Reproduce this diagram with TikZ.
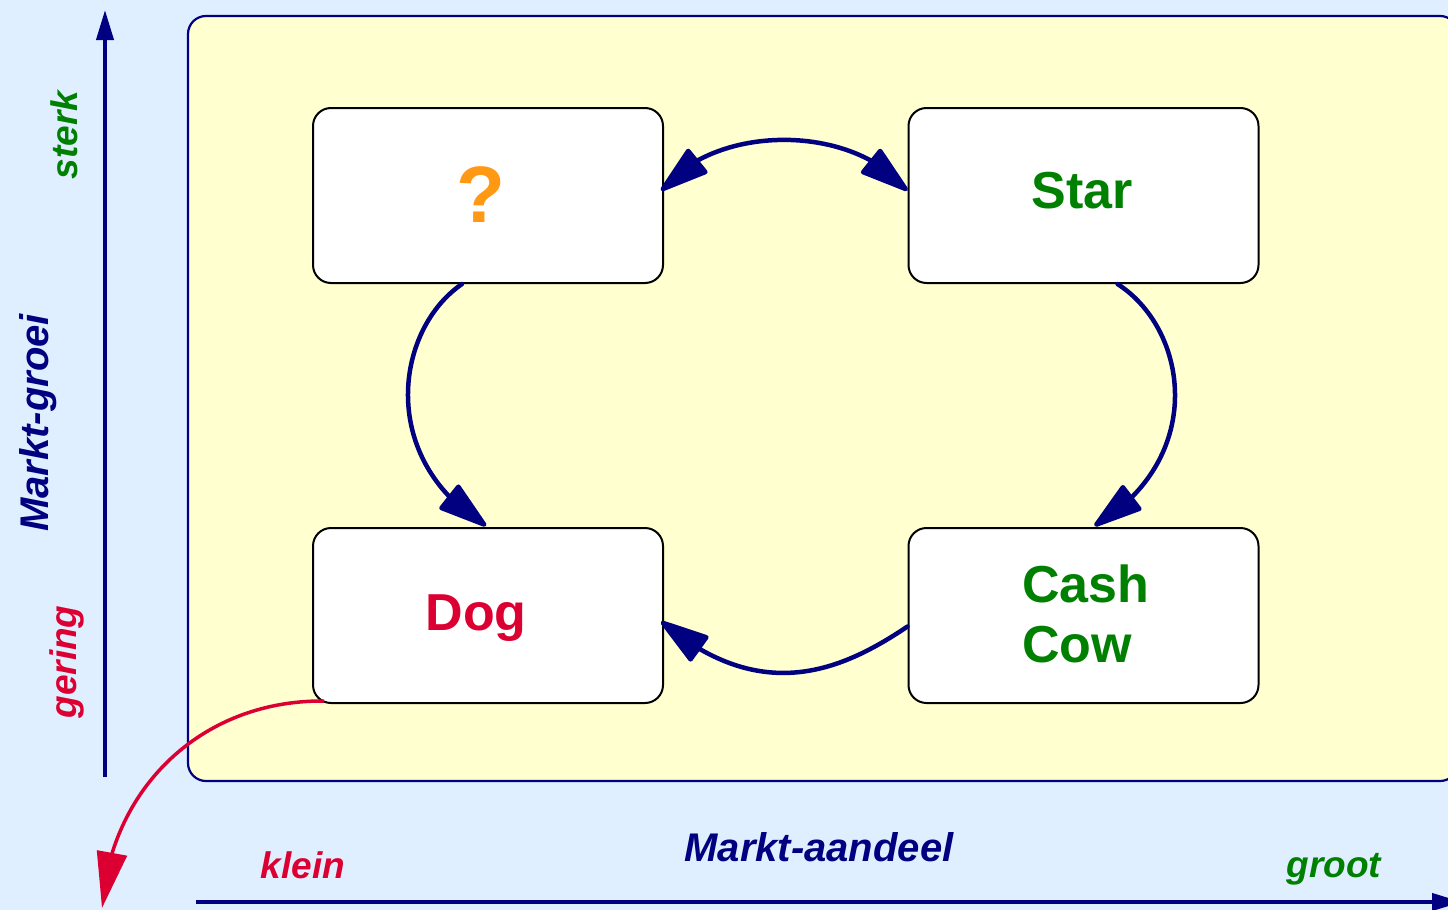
\documentclass[tikz,border=0pt]{standalone}
\usepackage{fontspec}
\setmainfont{Liberation Sans}
\usetikzlibrary{arrows.meta,bending}
\definecolor{bgblue}{RGB}{223,239,255}
\definecolor{panelyellow}{RGB}{255,255,208}
\definecolor{navyc}{RGB}{0,0,128}
\definecolor{greenc}{RGB}{0,128,0}
\definecolor{redc}{RGB}{220,0,50}
\definecolor{orangec}{RGB}{255,153,20}
\tikzset{
  box/.style={draw=black, line width=2pt, fill=white, rounded corners=18pt,
    minimum width=350pt, minimum height=175pt, inner sep=0pt},
  bigtxt/.style={font=\fontsize{52}{60}\selectfont\bfseries, inner sep=0pt},
  axlbl/.style={font=\fontsize{37}{40}\selectfont\bfseries\itshape, inner sep=0pt},
  axttl/.style={font=\fontsize{40}{44}\selectfont\bfseries\itshape, inner sep=0pt, text=navyc},
  cycle/.style={draw=navyc, line width=4.5pt, line cap=round, -{Triangle[length=54pt,width=32pt,round]}},
  axis/.style={draw=navyc, line width=4pt, -{Triangle[length=30pt,width=17pt]}},
  redarrow/.style={draw=redc, line width=3.5pt, -{Triangle[length=56pt,width=30pt]}}
}
\begin{document}
\begin{tikzpicture}[x=1pt,y=-1pt]
\useasboundingbox (0,0) rectangle (1448,910);
\clip (0,0) rectangle (1448,910);
\fill[bgblue] (0,0) rectangle (1448,910);
\draw[navyc, line width=2.2pt, fill=panelyellow, rounded corners=18pt] (188,16) rectangle (1458,781);

% boxes
\node[box] (q) at (488,195.5) {};
\node[box] (star) at (1083.5,195.5) {};
\node[box] (dog) at (488,615.5) {};
\node[box] (cash) at (1083.5,615.5) {};

% texts
\node[font=\fontsize{80}{84}\selectfont\bfseries, inner sep=0pt, text=orangec, anchor=base] (qt) at (481,222) {?};
\node[bigtxt, text=greenc, anchor=base] (stt) at (1082,208) {Star};
\node[bigtxt, text=redc, anchor=base] (dgt) at (476,630) {Dog};
\node[bigtxt, text=greenc, anchor=base west, align=left] (cct) at (1022,662) {Cash\\Cow};

% cycle arrows
\draw[cycle] ([xshift=-26pt]q.south) .. controls (395,330) and (377,459) .. ([xshift=-2pt,yshift=1pt]dog.north);
\draw[cycle] ([xshift=34pt]star.south) .. controls (1189,330) and (1207,459) .. ([xshift=11pt,yshift=1pt]cash.north);
\draw[cycle] ([yshift=-11pt]cash.west) .. controls (840,672) and (760,705) .. ([xshift=-3pt,yshift=-6pt]dog.east);
\draw[cycle, {Triangle[length=54pt,width=32pt,round]}-{Triangle[length=54pt,width=32pt,round]}] ([xshift=-3pt,yshift=5pt]q.east) .. controls (715,123) and (853,123) .. ([yshift=5pt]star.west);

% axes
\coordinate (ybot) at (105,777);
\coordinate (ytop) at (105,10);
\coordinate (xl) at (196,902);
\coordinate (xr) at (1462,902);
\draw[axis] (ybot) -- (ytop);
\draw[axis] (xl) -- (xr);

% red arrow
\coordinate (redend) at (102,908);
\draw[redarrow] ([xshift=12pt,yshift=3pt]dog.south west) .. controls (200,700) and (110,790) .. (redend);

% axis labels
\node[axlbl, text=greenc, rotate=90, anchor=base] (sterk) at (77,135) {sterk};
\node[axttl, rotate=90, anchor=base] (mg) at (48,423) {Markt-groei};
\node[axlbl, text=redc, rotate=90, anchor=base] (gering) at (76,662) {gering};
\node[axlbl, text=redc, anchor=base] (klein) at (303,878) {klein};
\node[axttl, anchor=base] (ma) at (819,861) {Markt-aandeel};
\node[axlbl, text=greenc, anchor=base] (groot) at (1334,877) {groot};
\end{tikzpicture}
\end{document}
